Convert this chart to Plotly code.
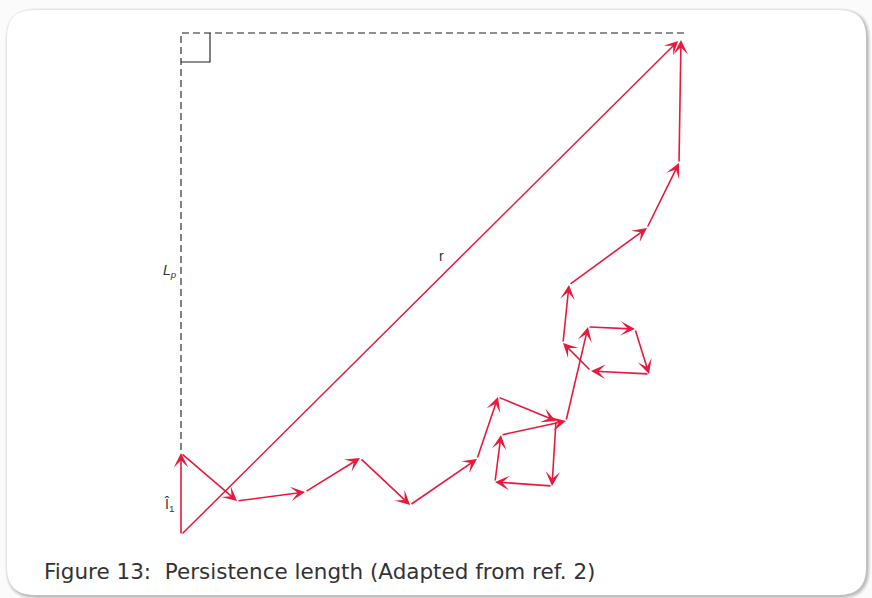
import plotly.graph_objects as go

# Chain vertices (figure units, y grows downward)
chain_x = [181, 181, 237, 305, 360, 410, 477, 498, 556, 552, 495, 501, 566, 588, 635, 649, 591, 563, 569, 647, 679, 681]
chain_y = [535, 453, 501, 492, 458, 505, 459, 397, 421, 486, 482, 435, 421, 327, 329, 374, 371, 343, 285, 228, 163, 40]

# End-to-end vector r
r_start = (181, 535)
r_end = (678, 41)

# Persistence length construction (dashed lines)
lp_x = [181, 181, 685]
lp_y = [450, 33, 33]
square_x = [181, 210, 210]
square_y = [62, 62, 33]

labels = [
    {"text": "<i>L</i><sub><i>p</i></sub>", "x": 170, "y": 271},
    {"text": "r", "x": 441, "y": 256},
    {"text": "Î<sub>1</sub>", "x": 169, "y": 505},
]
caption = "Figure 13:\u00a0 Persistence length (Adapted from ref. 2)"

RED = "#E8193C"
GREY = "#1e1e1e"
W, H = 872, 598

fig = go.Figure()

# dashed construction lines
fig.add_trace(go.Scatter(x=lp_x, y=lp_y, mode="lines",
                         line=dict(color=GREY, width=1.1, dash="7px,4px"),
                         hoverinfo="skip", showlegend=False))
fig.add_trace(go.Scatter(x=square_x, y=square_y, mode="lines",
                         line=dict(color=GREY, width=1.1),
                         hoverinfo="skip", showlegend=False))


def rounded(x0, y0, x1, y1, r):
    return (f"M{x0+r},{y0} L{x1-r},{y0} Q{x1},{y0} {x1},{y0+r} "
            f"L{x1},{y1-r} Q{x1},{y1} {x1-r},{y1} L{x0+r},{y1} "
            f"Q{x0},{y1} {x0},{y1-r} L{x0},{y0+r} Q{x0},{y0} {x0+r},{y0} Z")


shapes = []
# soft shadow layers
for i, op in enumerate([0.04, 0.05, 0.07, 0.09]):
    d = 4 - i
    shapes.append(dict(type="path", xref="x", yref="y", layer="below",
                       path=rounded(7 - d + 2, 10 - d + 2, 867 + d, 596 + d, 27 + d),
                       fillcolor=f"rgba(0,0,0,{op})", line=dict(width=0)))
shapes.append(dict(type="path", xref="x", yref="y", layer="below",
                   path=rounded(7, 10, 866, 595, 27),
                   fillcolor="white", line=dict(width=0)))

annotations = []
for i in range(len(chain_x) - 1):
    annotations.append(dict(x=chain_x[i + 1], y=chain_y[i + 1],
                            ax=chain_x[i], ay=chain_y[i],
                            xref="x", yref="y", axref="x", ayref="y",
                            text="", showarrow=True, arrowhead=3,
                            arrowsize=1.5, arrowwidth=1.6, arrowcolor=RED,
                            standoff=0))
annotations.append(dict(x=r_end[0], y=r_end[1], ax=r_start[0], ay=r_start[1],
                        xref="x", yref="y", axref="x", ayref="y",
                        text="", showarrow=True, arrowhead=3,
                        arrowsize=1.5, arrowwidth=1.5, arrowcolor=RED, standoff=0))
for lab in labels:
    annotations.append(dict(x=lab["x"], y=lab["y"], xref="x", yref="y",
                            text=lab["text"], showarrow=False,
                            font=dict(family="Liberation Sans, Arial", size=14, color="#333333")))
annotations.append(dict(x=42, y=571, xref="x", yref="y", xanchor="left",
                        text=caption, showarrow=False,
                        font=dict(family="DejaVu Sans", size=21.5, color="#333333")))

fig.update_layout(
    width=W, height=H, autosize=False,
    margin=dict(l=0, r=0, t=0, b=0, pad=0),
    paper_bgcolor="#fbfbfb", plot_bgcolor="rgba(0,0,0,0)",
    xaxis=dict(range=[0, W], visible=False, fixedrange=True),
    yaxis=dict(range=[H, 0], visible=False, fixedrange=True),
    shapes=shapes, annotations=annotations, showlegend=False,
)

fig.write_html("out.html", config={"displayModeBar": False},
               post_script="document.body.style.margin='0';document.body.style.overflow='hidden';")
